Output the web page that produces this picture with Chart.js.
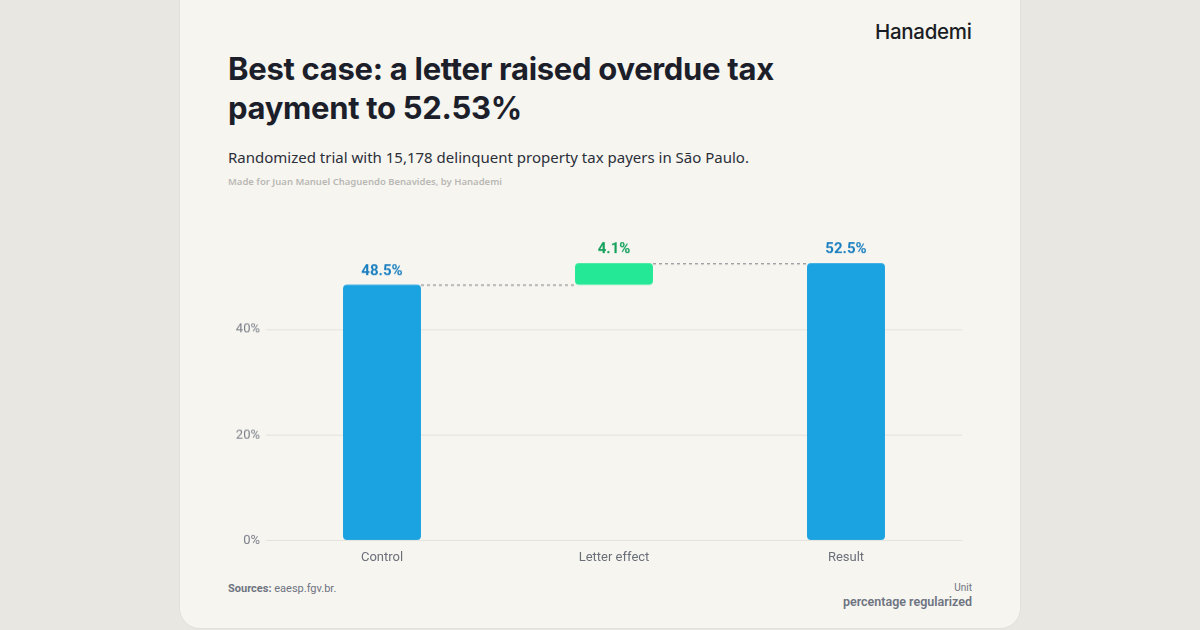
<!DOCTYPE html>
<html>
<head>
<meta charset="utf-8">
<script src="https://cdn.jsdelivr.net/npm/chart.js@4"></script>
<style>
  html, body { margin: 0; padding: 0; }
  body { width: 1200px; height: 630px; background: #e9e7e2; font-family: "Noto Sans", sans-serif; overflow: hidden; }
  .card { position: absolute; left: 180px; top: -20px; width: 840px; height: 648px; background: #f6f5f0; border-radius: 20px; box-shadow: 0 0 0 1px #e2e0da; }
  .logo { position: absolute; left: 875px; top: 19px; font-family: Inter, sans-serif; font-size: 20.5px; font-weight: 500; color: #1b1d24; letter-spacing: -0.3px; }
  h1 { position: absolute; left: 228px; top: 49px; margin: 0; width: 620px; font-family: Inter, sans-serif; font-size: 31px; line-height: 39px; font-weight: 700; color: #1c1f2a; letter-spacing: -0.3px; }
  .sub { position: absolute; left: 228px; top: 147px; font-size: 15px; color: #2b2f3a; }
  .made { position: absolute; left: 228px; top: 175px; font-size: 9.5px; font-weight: 600; color: #b9b8b4; }
  .src { position: absolute; left: 228px; top: 582px; font-family: Roboto, sans-serif; font-size: 11px; color: #6e7380; }
  .src b { font-weight: 700; }
  .unit { position: absolute; right: 228px; top: 582px; text-align: right; font-family: Roboto, sans-serif; color: #6e7380; }
  .unit .u1 { font-size: 10px; }
  .unit .u2 { font-size: 12.5px; font-weight: 600; margin-top: 1px; }
  #wrap { position: absolute; left: 220px; top: 210px; width: 750px; height: 359.5px; }
</style>
</head>
<body>
<div class="card"></div>
<div class="logo">Hanademi</div>
<h1>Best case: a letter raised overdue tax payment to 52.53%</h1>
<div class="sub">Randomized trial with 15,178 delinquent property tax payers in São Paulo.</div>
<div class="made">Made for Juan Manuel Chaguendo Benavides, by Hanademi</div>
<div id="wrap"><canvas id="chart"></canvas></div>
<div class="src"><b>Sources:</b> eaesp.fgv.br.</div>
<div class="unit"><div class="u1">Unit</div><div class="u2">percentage regularized</div></div>
<script>
const categories = ['Control', 'Letter effect', 'Result'];
const controlValue = 48.48;
const effectValue = 4.05;
const resultValue = 52.53;
const valueLabels = ['48.5%', '4.1%', '52.5%'];
const tickValues = [0, 20, 40];

const barData = [
    [0, controlValue],
    [controlValue, controlValue + effectValue],
    [0, resultValue]
];
const barColors = ['#1ba2e0', '#24e896', '#1ba2e0'];
const labelColors = ['#1a7fc0', '#12a05a', '#1a7fc0'];

const waterfallExtras = {
    id: 'waterfallExtras',
    afterDatasetsDraw(chart) {
        const ctx = chart.ctx;
        const meta = chart.getDatasetMeta(0);
        const y = chart.scales.y;
        ctx.save();
        // dashed connectors
        ctx.strokeStyle = '#8d8f94';
        ctx.lineWidth = 1.2;
        ctx.setLineDash([3, 3]);
        for (let i = 0; i < meta.data.length - 1; i++) {
            const a = meta.data[i], b = meta.data[i + 1];
            const top = y.getPixelForValue(barData[i][1]);
            ctx.beginPath();
            ctx.moveTo(a.x + a.width / 2, top + 0.5);
            ctx.lineTo(b.x - b.width / 2, top + 0.5);
            ctx.stroke();
        }
        ctx.setLineDash([]);
        // value labels
        ctx.font = '700 15px Roboto, sans-serif';
        ctx.textAlign = 'center';
        ctx.textBaseline = 'bottom';
        meta.data.forEach((bar, i) => {
            ctx.fillStyle = labelColors[i];
            ctx.fillText(valueLabels[i], bar.x, y.getPixelForValue(barData[i][1]) - 6);
        });
        ctx.restore();
    }
};

new Chart(document.getElementById('chart'), {
    type: 'bar',
    data: {
        labels: categories,
        datasets: [{
            data: barData,
            backgroundColor: barColors,
            borderRadius: 4,
            borderSkipped: false,
            categoryPercentage: 1,
            barPercentage: 0.336
        }]
    },
    options: {
        responsive: true,
        maintainAspectRatio: false,
        animation: false,
        layout: { padding: { top: 5, right: 8 } },
        plugins: { legend: { display: false }, tooltip: { enabled: false } },
        scales: {
            x: {
                grid: { display: false },
                border: { display: false },
                ticks: { color: '#6b6f7a', font: { family: 'Roboto', size: 13 }, padding: 1 },
                afterFit(scale) { scale.height = 30; }
            },
            y: {
                min: 0,
                max: 60,
                grid: { color: '#e4e2dc', drawTicks: false },
                border: { display: false },
                ticks: {
                    color: '#7a7e88',
                    font: { family: 'Roboto', size: 13 },
                    padding: 6,
                    callback: v => v + '%'
                },
                afterBuildTicks(scale) { scale.ticks = tickValues.map(v => ({ value: v })); },
                afterFit(scale) { scale.width = 46; }
            }
        }
    },
    plugins: [waterfallExtras]
});
</script>
</body>
</html>
